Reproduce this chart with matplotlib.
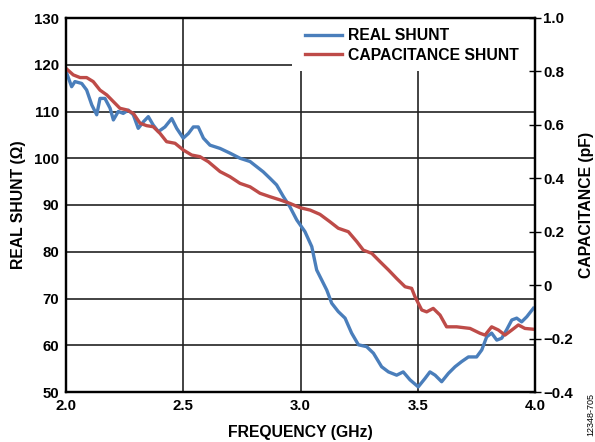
import numpy as np
import matplotlib
matplotlib.use("Agg")
import matplotlib.pyplot as plt
from matplotlib.patches import Rectangle
from matplotlib.ticker import FuncFormatter

# Real shunt (ohm) vs frequency (GHz)
real_freq = [2.003, 2.024, 2.038, 2.067, 2.088, 2.110, 2.131, 2.145, 2.166, 2.188,
             2.202, 2.223, 2.244, 2.266, 2.287, 2.308, 2.330, 2.351, 2.372, 2.394,
             2.422, 2.451, 2.472, 2.500, 2.522, 2.543, 2.564, 2.586, 2.614, 2.657,
             2.699, 2.742, 2.785, 2.813, 2.841, 2.870, 2.898, 2.927, 2.955, 2.984,
             3.019, 3.048, 3.069, 3.090, 3.112, 3.133, 3.161, 3.190, 3.218, 3.247,
             3.282, 3.311, 3.346, 3.375, 3.410, 3.438, 3.467, 3.502, 3.531, 3.552,
             3.574, 3.602, 3.631, 3.659, 3.687, 3.716, 3.751, 3.773, 3.794, 3.815,
             3.837, 3.858, 3.879, 3.901, 3.922, 3.943, 3.965, 3.993]
real_shunt = [118.2, 115.3, 116.4, 116.0, 114.6, 111.4, 109.3, 112.8, 112.8, 110.7,
              108.2, 110.0, 109.6, 110.3, 109.3, 106.4, 107.8, 108.9, 107.1, 105.7,
              106.7, 108.5, 106.4, 104.3, 105.3, 106.7, 106.7, 104.3, 102.8, 102.1,
              101.1, 100.0, 99.3, 98.2, 97.1, 95.7, 94.3, 91.8, 89.6, 86.8,
              84.3, 81.1, 76.1, 74.0, 71.8, 69.0, 67.2, 65.8, 62.6, 60.1,
              59.7, 58.3, 55.4, 54.3, 53.6, 54.3, 52.6, 51.1, 52.9, 54.3,
              53.6, 52.2, 54.0, 55.4, 56.5, 57.5, 57.5, 59.0, 61.8, 62.6,
              61.1, 61.5, 63.3, 65.4, 65.8, 65.0, 66.1, 67.9]

# Capacitance shunt (pF) vs frequency (GHz)
cap_freq = [2.003, 2.031, 2.060, 2.088, 2.116, 2.145, 2.174, 2.202, 2.230, 2.259,
            2.287, 2.316, 2.344, 2.372, 2.401, 2.429, 2.465, 2.500, 2.536, 2.571,
            2.607, 2.657, 2.699, 2.742, 2.785, 2.827, 2.870, 2.913, 2.955, 2.998,
            3.041, 3.083, 3.126, 3.161, 3.204, 3.240, 3.268, 3.304, 3.339, 3.375,
            3.410, 3.446, 3.474, 3.488, 3.517, 3.538, 3.566, 3.595, 3.623, 3.666,
            3.723, 3.765, 3.787, 3.815, 3.844, 3.872, 3.901, 3.929, 3.957, 3.993]
cap_shunt = [0.809, 0.787, 0.777, 0.777, 0.762, 0.730, 0.712, 0.687, 0.662, 0.656,
             0.643, 0.606, 0.597, 0.593, 0.568, 0.537, 0.531, 0.506, 0.487, 0.481,
             0.462, 0.425, 0.406, 0.381, 0.368, 0.344, 0.331, 0.319, 0.306, 0.290,
             0.281, 0.265, 0.237, 0.213, 0.200, 0.163, 0.131, 0.119, 0.088, 0.057,
             0.025, -0.006, -0.012, -0.043, -0.093, -0.100, -0.087, -0.112, -0.156, -0.156,
             -0.162, -0.180, -0.187, -0.156, -0.168, -0.187, -0.168, -0.149, -0.162, -0.165]

x_ticks = [2.0, 2.5, 3.0, 3.5, 4.0]
left_ticks = [50, 60, 70, 80, 90, 100, 110, 120, 130]
right_ticks = [-0.4, -0.2, 0, 0.2, 0.4, 0.6, 0.8, 1.0]

blue = "#4a7ebb"
red = "#be4b48"

plt.rcParams['font.family'] = ['Liberation Sans', 'DejaVu Sans']
plt.rcParams['font.weight'] = 'bold'
plt.rcParams['font.size'] = 11

fig = plt.figure(figsize=(5.95, 4.42), dpi=100)
ax = fig.add_axes([66 / 595, 50 / 442, 469 / 595, 374 / 442])
ax2 = ax.twinx()

ax.plot(real_freq, real_shunt, color=blue, lw=2.4, label="REAL SHUNT", zorder=3)
ax2.plot(cap_freq, cap_shunt, color=red, lw=2.4, label="CAPACITANCE SHUNT")

ax.set_xlim(2.0, 4.0)
ax.set_ylim(50, 130)
ax2.set_ylim(-0.4, 1.0)
ax.set_xticks(x_ticks)
ax.set_yticks(left_ticks)
ax2.set_yticks(right_ticks)
ax.xaxis.set_major_formatter(FuncFormatter(lambda v, p: f"{v:.1f}"))


def cap_fmt(v, p):
    if abs(v) < 1e-9:
        return "0"
    return f"{v:.1f}".replace("-", "\u2212")


ax2.yaxis.set_major_formatter(FuncFormatter(cap_fmt))

ax.grid(True, color="#222222", lw=1.2)
ax.set_axisbelow(True)
ax.tick_params(axis='both', length=0, labelsize=10.8)
ax.tick_params(axis='x', pad=5)
ax.tick_params(axis='y', pad=5)
ax2.tick_params(axis='y', direction='inout', length=8, width=1.0, pad=2, labelsize=10.8)
for a in (ax, ax2):
    for s in a.spines.values():
        s.set_linewidth(1.6)
        s.set_color("black")

# white patch behind the legend hides the gridlines there
ax.add_patch(Rectangle((0.482, 0.858), 0.52, 0.142, transform=ax.transAxes,
                       facecolor="white", edgecolor="none", zorder=1.8))

ax.set_xlabel("FREQUENCY (GHz)", fontsize=11.3, fontweight='bold', va='center')
ax.set_ylabel("REAL SHUNT (\u03a9)", fontsize=11.3, fontweight='bold', va='center')
ax2.set_ylabel("CAPACITANCE (pF)", fontsize=11.3, fontweight='bold', va='center',
               rotation=90)
ax.xaxis.set_label_coords((300 - 66) / 469, (392 - 432) / 374)
ax.yaxis.set_label_coords((19 - 66) / 469, 0.5)
ax2.yaxis.set_label_coords((586 - 66) / 469, 0.5)

h1, l1 = ax.get_legend_handles_labels()
h2, l2 = ax2.get_legend_handles_labels()
fig.legend(h1 + h2, l1 + l2, loc='upper left',
           bbox_to_anchor=(305 / 595, 1 - 28 / 442),
           frameon=False, handlelength=2.35, handletextpad=0.38,
           labelspacing=0.3, borderpad=0, borderaxespad=0, fontsize=11.3)

fig.text(591 / 595, 1 - 414 / 442, "12348-705", rotation=90, fontsize=6.5,
         fontweight='normal', ha='center', va='center')

fig.savefig("out.png", dpi=100)
